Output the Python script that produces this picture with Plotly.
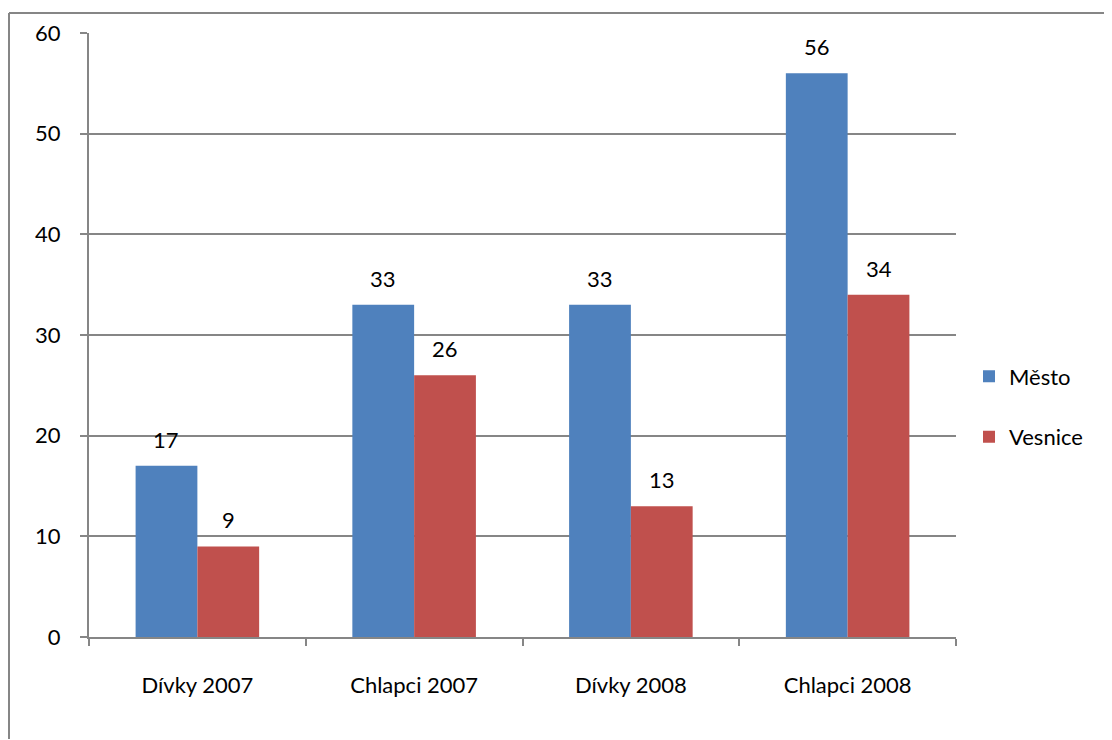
import plotly.graph_objects as go

categories = ["Dívky 2007", "Chlapci 2007", "Dívky 2008", "Chlapci 2008"]
mesto = [17, 33, 33, 56]
vesnice = [9, 26, 13, 34]
series_names = ["Město", "Vesnice"]
colors = ["#4F81BD", "#C0504D"]

FONT = dict(family="Lato, 'Open Sans', sans-serif", size=22, color="#000000")

W, H = 1104, 732
L, R, T, B = 81, 156, 25, 103
PW = W - L - R
PH = H - T - B
BARGAP = 0.43
bar_px = PW / len(categories) * (1 - BARGAP) / 2

fig = go.Figure()
series = [(series_names[0], mesto, colors[0], "a", -1), (series_names[1], vesnice, colors[1], "b", 1)]
for name, vals, col, grp, side in series:
    fig.add_trace(go.Bar(
        x=categories, y=vals, name=name, marker=dict(color=col, line=dict(width=0)),
        legendgroup=grp,
    ))
    for c, v in zip(categories, vals):
        fig.add_annotation(x=c, y=v, text=str(v), showarrow=False, xref="x", yref="y",
                           xanchor="center", yanchor="bottom", xshift=side * bar_px / 2,
                           yshift=11, font=FONT)

fig.update_layout(
    width=W, height=H,
    margin=dict(l=L, r=R, t=T, b=B),
    paper_bgcolor="white", plot_bgcolor="white",
    barmode="group", bargap=BARGAP, bargroupgap=0,
    font=FONT,
    showlegend=True,
    legend=dict(x=1.015, y=0.381, xanchor="left", yanchor="middle",
                font=FONT, tracegroupgap=29, itemwidth=30,
                bgcolor="rgba(0,0,0,0)"),
    xaxis=dict(type="category", tickson="boundaries", ticks="outside", ticklen=7,
               tickcolor="#868686", tickwidth=2, showline=True, linecolor="#868686",
               linewidth=2, showgrid=False, ticklabelstandoff=28, tickfont=FONT),
    yaxis=dict(range=[0, 60], dtick=10, ticks="outside", ticklen=7, tickcolor="#868686",
               tickwidth=2, showline=True, linecolor="#868686", linewidth=2,
               showgrid=True, gridcolor="#868686", gridwidth=1.5, zeroline=False,
               ticklabelstandoff=15, tickfont=FONT),
)

# outer chart frame (cropped at right and bottom)
fx = (1 - L) / PW
fy = (H - B - 5) / PH
fig.add_shape(type="line", xref="paper", yref="paper", layer="above",
              x0=fx, x1=fx, y0=fy, y1=(H - B - H + 1) / PH,
              line=dict(color="#868686", width=2))
fig.add_shape(type="line", xref="paper", yref="paper", layer="above",
              x0=fx, x1=(W - 1 - L) / PW, y0=fy, y1=fy,
              line=dict(color="#868686", width=2))

fig.write_html("out.html")
